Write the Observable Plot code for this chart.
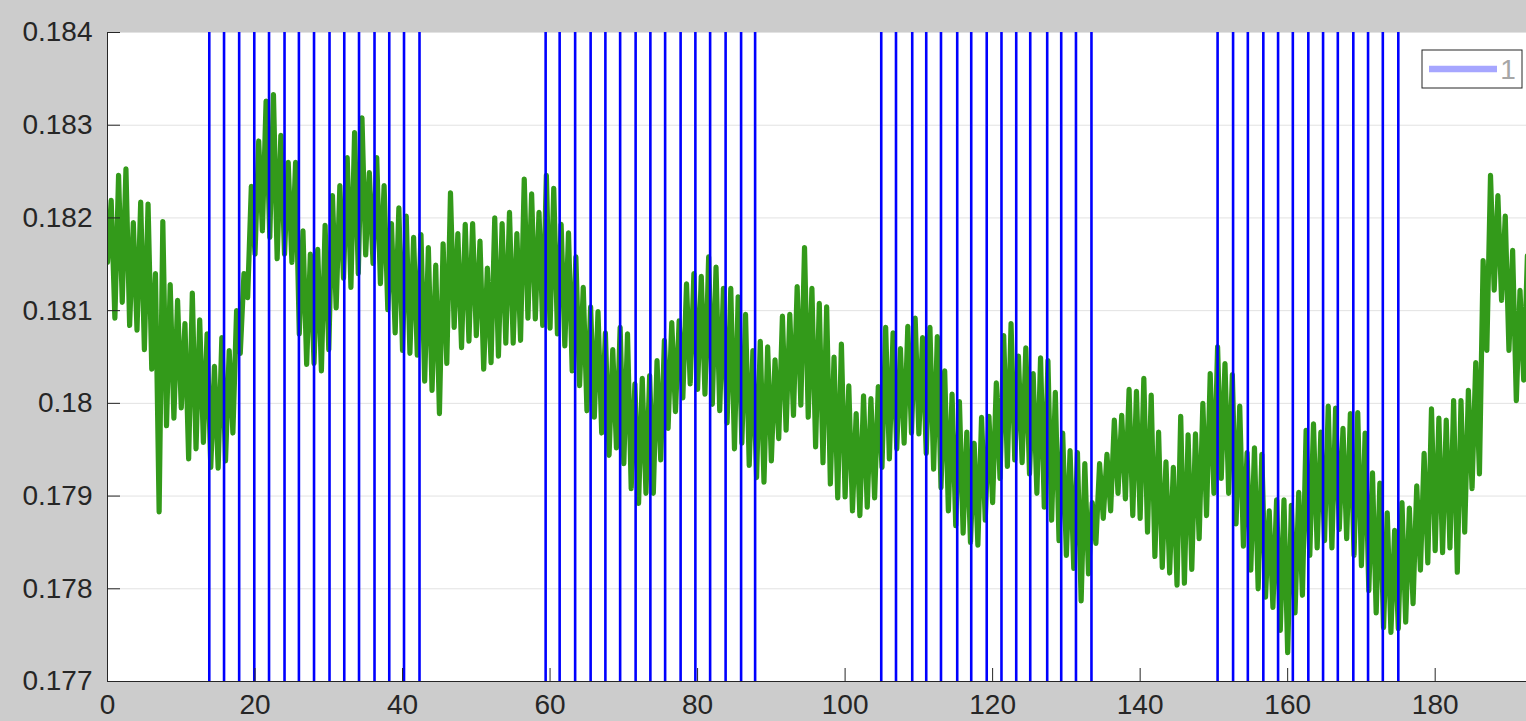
<!DOCTYPE html>
<html>
<head>
<meta charset="utf-8">
<script src="https://cdn.jsdelivr.net/npm/d3@7"></script>
<script src="https://cdn.jsdelivr.net/npm/@observablehq/plot@0.6"></script>
<style>
  html, body { margin: 0; padding: 0; background: #cccccc; }
  #chart svg { display: block; }
</style>
</head>
<body>
<div id="chart"></div>
<script>
// Signal envelope: one trough and one peak per time unit (t = 0 … 192)
const peaks = [
  0.18219, 0.18246, 0.18253, 0.18195, 0.18217, 0.18215, 0.18140, 0.18196, 0.18128, 0.18111,
  0.18086, 0.18119, 0.18090, 0.18075, 0.18040, 0.18071, 0.18057, 0.18100, 0.18140, 0.18234,
  0.18283, 0.18326, 0.18333, 0.18289, 0.18260, 0.18260, 0.18186, 0.18161, 0.18166, 0.18192,
  0.18224, 0.18235, 0.18265, 0.18292, 0.18308, 0.18249, 0.18265, 0.18235, 0.18194, 0.18211,
  0.18202, 0.18179, 0.18182, 0.18168, 0.18149, 0.18172, 0.18227, 0.18183, 0.18193, 0.18194,
  0.18175, 0.18146, 0.18200, 0.18194, 0.18206, 0.18183, 0.18242, 0.18226, 0.18206, 0.18246,
  0.18232, 0.18193, 0.18184, 0.18158, 0.18125, 0.18104, 0.18099, 0.18076, 0.18058, 0.18082,
  0.18075, 0.18021, 0.18027, 0.18030, 0.18046, 0.18068, 0.18087, 0.18089, 0.18129, 0.18140,
  0.18137, 0.18158, 0.18147, 0.18124, 0.18124, 0.18115, 0.18096, 0.18057, 0.18067, 0.18061,
  0.18047, 0.18094, 0.18096, 0.18126, 0.18168, 0.18124, 0.18108, 0.18104, 0.18050, 0.18064,
  0.18019, 0.17989, 0.18008, 0.18005, 0.18018, 0.18082, 0.18076, 0.18059, 0.18083, 0.18092,
  0.18071, 0.18082, 0.18072, 0.18035, 0.18010, 0.18002, 0.17969, 0.17957, 0.17985, 0.17986,
  0.18022, 0.18073, 0.18086, 0.18051, 0.18060, 0.18032, 0.18049, 0.18046, 0.18012, 0.17968,
  0.17949, 0.17947, 0.17935, 0.17893, 0.17935, 0.17945, 0.17982, 0.17987, 0.18015, 0.18013,
  0.18027, 0.18009, 0.17969, 0.17937, 0.17931, 0.17986, 0.17966, 0.17967, 0.18000, 0.18032,
  0.18061, 0.18043, 0.18031, 0.17997, 0.17947, 0.17952, 0.17945, 0.17884, 0.17896, 0.17896,
  0.17890, 0.17904, 0.17971, 0.17978, 0.17969, 0.17997, 0.17995, 0.17973, 0.17989, 0.17990,
  0.17968, 0.17925, 0.17914, 0.17882, 0.17863, 0.17893, 0.17887, 0.17911, 0.17946, 0.17994,
  0.17984, 0.17982, 0.18003, 0.18003, 0.18014, 0.18044, 0.18154, 0.18246, 0.18224, 0.18202,
  0.18165, 0.18122, 0.18159
];
const troughs = [
  0.18152, 0.18092, 0.18109, 0.18084, 0.18079, 0.18058, 0.18037, 0.17883, 0.17976, 0.17984,
  0.17995, 0.17940, 0.17951, 0.17958, 0.17931, 0.17930, 0.17938, 0.17968, 0.18054, 0.18114,
  0.18161, 0.18186, 0.18179, 0.18156, 0.18161, 0.18152, 0.18075, 0.18042, 0.18043, 0.18035,
  0.18058, 0.18103, 0.18135, 0.18125, 0.18140, 0.18160, 0.18151, 0.18129, 0.18101, 0.18076,
  0.18057, 0.18054, 0.18052, 0.18024, 0.18014, 0.17989, 0.18043, 0.18082, 0.18060, 0.18067,
  0.18073, 0.18037, 0.18044, 0.18051, 0.18065, 0.18065, 0.18068, 0.18092, 0.18091, 0.18084,
  0.18081, 0.18075, 0.18062, 0.18035, 0.18019, 0.17992, 0.17985, 0.17968, 0.17944, 0.17952,
  0.17935, 0.17908, 0.17892, 0.17903, 0.17903, 0.17939, 0.17973, 0.17991, 0.18006, 0.18021,
  0.18015, 0.18010, 0.17999, 0.17992, 0.17979, 0.17951, 0.17957, 0.17933, 0.17920, 0.17915,
  0.17938, 0.17962, 0.17971, 0.17987, 0.17998, 0.17985, 0.17953, 0.17936, 0.17913, 0.17898,
  0.17899, 0.17884, 0.17879, 0.17888, 0.17898, 0.17931, 0.17940, 0.17951, 0.17957, 0.17968,
  0.17967, 0.17946, 0.17929, 0.17909, 0.17884, 0.17868, 0.17860, 0.17850, 0.17847, 0.17874,
  0.17893, 0.17919, 0.17932, 0.17939, 0.17936, 0.17924, 0.17903, 0.17888, 0.17874, 0.17852,
  0.17836, 0.17822, 0.17787, 0.17816, 0.17849, 0.17876, 0.17884, 0.17903, 0.17897, 0.17879,
  0.17876, 0.17861, 0.17835, 0.17823, 0.17817, 0.17804, 0.17806, 0.17821, 0.17854, 0.17879,
  0.17903, 0.17919, 0.17903, 0.17870, 0.17846, 0.17820, 0.17800, 0.17791, 0.17780, 0.17755,
  0.17731, 0.17774, 0.17793, 0.17836, 0.17844, 0.17852, 0.17844, 0.17864, 0.17854, 0.17836,
  0.17825, 0.17798, 0.17774, 0.17758, 0.17753, 0.17757, 0.17764, 0.17784, 0.17820, 0.17828,
  0.17841, 0.17839, 0.17844, 0.17818, 0.17861, 0.17908, 0.17924, 0.18057, 0.18122, 0.18111,
  0.18057, 0.18003, 0.18025
];
const sampleStep = 0.5; // trough at t = k, peak at t = k + 0.5

// Event markers (four bursts)
const burst1 = [13.8, 15.8, 17.85, 19.9, 21.9, 24.0, 25.95, 28.0, 30.1, 32.1, 34.1, 36.2, 38.2, 40.2, 42.3];
const burst2 = [59.4, 61.3, 63.4, 65.5, 67.5, 69.5, 71.6, 73.6, 75.6, 77.7, 79.7, 81.7, 83.8, 85.9, 87.8];
const burst3 = [104.9, 106.9, 109.1, 111.0, 113.0, 115.2, 117.1, 119.2, 121.2, 123.2, 125.1, 127.4, 129.3, 131.3, 133.4];
const burst4 = [150.5, 152.6, 154.6, 156.7, 158.7, 160.7, 162.8, 164.8, 166.8, 168.9, 170.9, 172.9, 175.0];

const xTicks = [0, 20, 40, 60, 80, 100, 120, 140, 160, 180];
const yTicks = [0.177, 0.178, 0.179, 0.18, 0.181, 0.182, 0.183, 0.184];
const legendLabel = "1";

// Interleave troughs and peaks into one sampled trace
const signal = [];
troughs.forEach((lo, k) => {
  signal.push({t: 2 * k * sampleStep, v: lo});
  signal.push({t: (2 * k + 1) * sampleStep, v: peaks[k]});
});
const markers = [...burst1, ...burst2, ...burst3, ...burst4];

const W = 1526, H = 721;
const ink = "#262626";

const chart = Plot.plot({
  width: W,
  height: H,
  marginLeft: 107,
  marginRight: 0,
  marginTop: 32,
  marginBottom: 40,
  style: {
    background: "#cccccc",
    color: ink,
    fontFamily: "'Liberation Sans', Arial, Helvetica, sans-serif",
    fontSize: "28px",
    overflow: "hidden"
  },
  x: {domain: [0, 192.38]},
  y: {domain: [0.177, 0.184]},
  marks: [
    Plot.frame({fill: "white", stroke: "none"}),
    Plot.gridY(yTicks, {stroke: "#e2e2e2", strokeOpacity: 1, strokeWidth: 1}),
    Plot.line(signal, {x: "t", y: "v", stroke: "#339a1a", strokeWidth: 5.2, clip: true}),
    Plot.ruleX(markers, {stroke: "#0000ff", strokeWidth: 2.6}),
    Plot.ruleX([0], {stroke: ink, strokeWidth: 1}),
    Plot.ruleY([0.177], {stroke: ink, strokeWidth: 1}),
    Plot.axisY(yTicks, {
      anchor: "left", tickSize: -13, tickPadding: 28, label: null, stroke: ink,
      tickFormat: (d) => String(+d.toFixed(3))
    }),
    Plot.axisX(xTicks, {
      anchor: "bottom", tickSize: -13, tickPadding: 26, label: null, stroke: ink,
      tickFormat: (d) => String(d)
    })
  ]
});

// Legend box in the upper-right corner of the axes
const svg = d3.select(chart);
const lg = svg.append("g").attr("class", "legend");
lg.append("rect")
  .attr("x", W - 104).attr("y", 50).attr("width", 100).attr("height", 38)
  .attr("fill", "white").attr("stroke", ink).attr("stroke-width", 1);
lg.append("line")
  .attr("x1", W - 97).attr("x2", W - 29).attr("y1", 69).attr("y2", 69)
  .attr("stroke", "#0000ff").attr("stroke-opacity", 0.35).attr("stroke-width", 6.5);
lg.append("text")
  .attr("x", W - 18).attr("y", 69).attr("dy", "0.35em")
  .attr("text-anchor", "middle")
  .attr("fill", "#a6a6a6")
  .attr("font-size", 28)
  .text(legendLabel);

document.getElementById("chart").appendChild(chart);
</script>
</body>
</html>
